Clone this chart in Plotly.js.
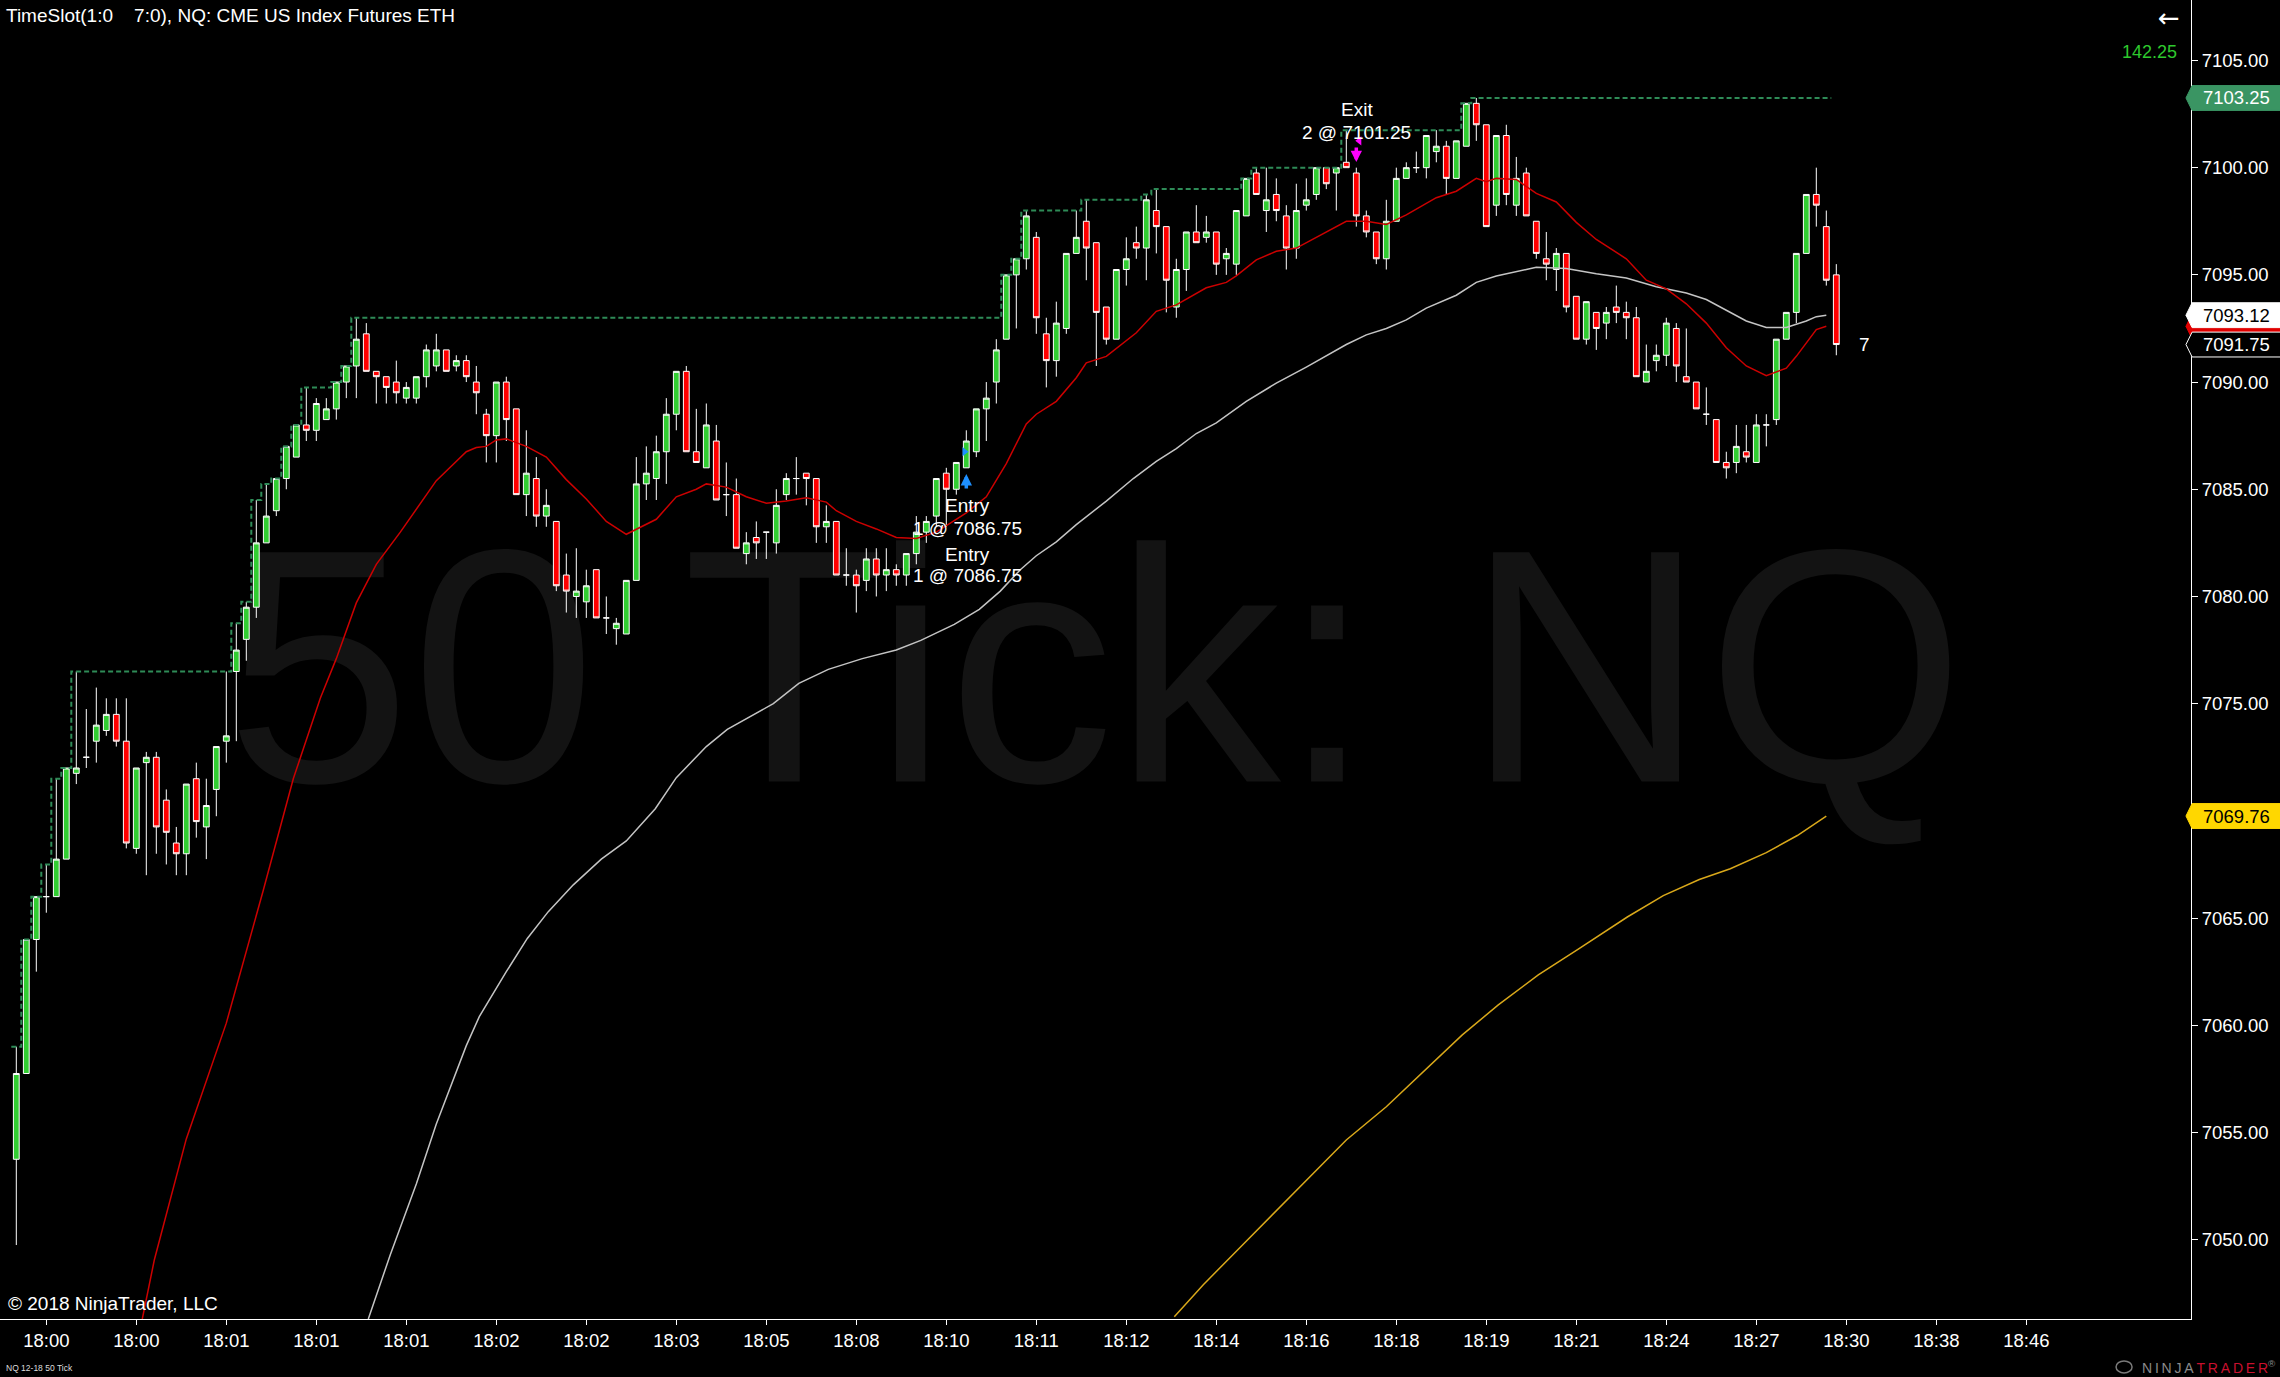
<!DOCTYPE html>
<html>
<head>
<meta charset="utf-8">
<script src="https://cdn.plot.ly/plotly-3.0.1.min.js"></script>
<style>
  html, body { margin: 0; padding: 0; background: #000; overflow: hidden; }
  #chart { width: 2280px; height: 1377px; }
</style>
</head>
<body>
<div id="chart"></div>
<script>
// NQ 12-18, 50 tick bars
const barOpen = [
  7053.75, 7057.75, 7064.0, 7066.0, 7066.0, 7067.75, 7071.75, 7072.5, 7073.25, 7073.75,
  7074.5, 7073.25, 7068.25, 7072.25, 7072.5, 7070.5, 7068.5, 7068.0, 7071.5, 7069.25,
  7071.0, 7073.25, 7076.5, 7078.0, 7079.5, 7082.5, 7084.0, 7085.5, 7086.5, 7088.0,
  7087.75, 7088.25, 7088.75, 7090.0, 7090.75, 7092.25, 7090.5, 7090.25, 7090.0, 7089.25,
  7089.25, 7090.25, 7090.75, 7091.5, 7090.75, 7091.0, 7090.0, 7088.5, 7087.5, 7090.0,
  7088.75, 7084.75, 7085.5, 7083.75, 7083.5, 7081.0, 7080.0, 7079.75, 7081.25, 7079.0,
  7078.5, 7078.25, 7080.75, 7085.25, 7085.5, 7086.75, 7088.5, 7090.5, 7086.75, 7086.0,
  7087.25, 7084.75, 7084.75, 7082.0, 7082.75, 7083.0, 7082.5, 7084.75, 7085.5, 7085.75,
  7085.5, 7083.25, 7083.5, 7081.0, 7081.0, 7080.75, 7081.75, 7081.0, 7081.25, 7081.0,
  7082.0, 7083.0, 7083.75, 7085.75, 7085.0, 7086.0, 7086.75, 7088.75, 7090.0, 7092.0,
  7095.0, 7095.75, 7096.75, 7092.25, 7091.0, 7092.5, 7096.0, 7097.5, 7096.5, 7093.5,
  7092.0, 7095.25, 7096.5, 7096.25, 7098.0, 7097.25, 7093.5, 7095.25, 7097.0, 7096.75,
  7097.0, 7095.75, 7095.5, 7097.75, 7099.75, 7098.0, 7098.75, 7097.75, 7096.25, 7098.25,
  7098.75, 7100.0, 7099.75, 7100.25, 7099.75, 7097.75, 7097.0, 7095.75, 7097.5, 7099.5,
  7100.0, 7100.0, 7100.75, 7101.0, 7099.5, 7101.0, 7103.0, 7102.0, 7098.25, 7101.5,
  7098.25, 7099.75, 7097.5, 7095.75, 7095.25, 7096.0, 7094.0, 7092.0, 7093.25, 7092.75,
  7093.5, 7093.25, 7093.0, 7090.0, 7091.0, 7091.25, 7092.5, 7090.25, 7090.0, 7088.5,
  7088.25, 7086.25, 7086.25, 7086.75, 7086.25, 7088.0, 7088.25, 7092.0, 7093.25, 7096.0,
  7098.75, 7097.25, 7095.0
];
const barHigh = [
  7059.0, 7064.0, 7066.0, 7067.5, 7071.5, 7072.0, 7076.5, 7074.75, 7075.75, 7075.25,
  7075.25, 7075.25, 7072.0, 7072.75, 7072.75, 7071.0, 7069.25, 7071.25, 7072.25, 7071.5,
  7073.0, 7076.5, 7078.75, 7079.75, 7084.5, 7085.25, 7085.5, 7087.0, 7088.0, 7089.75,
  7089.25, 7089.25, 7090.0, 7090.75, 7093.0, 7092.75, 7090.5, 7090.25, 7091.0, 7090.0,
  7090.25, 7091.75, 7092.25, 7091.5, 7091.25, 7091.25, 7090.75, 7088.75, 7090.0, 7090.25,
  7088.75, 7087.75, 7086.5, 7085.0, 7083.5, 7082.0, 7082.25, 7081.25, 7081.25, 7080.0,
  7079.0, 7080.75, 7086.5, 7087.0, 7087.5, 7089.25, 7090.5, 7090.75, 7088.75, 7089.0,
  7088.0, 7086.25, 7085.5, 7083.0, 7083.5, 7083.0, 7085.0, 7085.75, 7086.5, 7085.75,
  7085.5, 7084.25, 7083.5, 7082.25, 7081.25, 7082.25, 7082.25, 7082.25, 7081.5, 7082.0,
  7083.75, 7083.75, 7085.5, 7086.0, 7086.25, 7087.75, 7088.75, 7090.0, 7092.0, 7095.0,
  7095.75, 7098.0, 7097.0, 7093.0, 7093.75, 7096.0, 7098.0, 7098.5, 7096.5, 7093.5,
  7095.25, 7096.75, 7097.25, 7098.75, 7099.0, 7097.25, 7095.75, 7097.0, 7098.25, 7097.75,
  7097.0, 7096.25, 7098.0, 7099.5, 7100.0, 7100.0, 7099.5, 7098.25, 7099.25, 7099.5,
  7100.0, 7100.0, 7100.0, 7101.75, 7100.0, 7098.0, 7097.0, 7098.5, 7100.0, 7100.25,
  7100.75, 7101.5, 7101.75, 7101.25, 7101.25, 7103.0, 7103.25, 7102.0, 7101.5, 7102.0,
  7100.5, 7100.0, 7097.5, 7097.0, 7096.25, 7096.0, 7094.0, 7093.75, 7093.25, 7093.5,
  7094.5, 7093.75, 7093.5, 7091.75, 7091.75, 7093.0, 7092.75, 7092.5, 7090.0, 7089.75,
  7088.25, 7086.75, 7088.0, 7088.0, 7088.5, 7088.5, 7092.0, 7093.25, 7096.0, 7098.75,
  7100.0, 7098.0, 7095.5
];
const barLow = [
  7049.75, 7057.75, 7062.5, 7065.25, 7066.0, 7067.75, 7071.25, 7072.0, 7072.25, 7073.5,
  7073.0, 7068.25, 7068.0, 7067.0, 7068.0, 7067.5, 7067.0, 7067.0, 7068.75, 7067.75,
  7069.75, 7072.25, 7073.25, 7077.0, 7079.0, 7082.5, 7083.75, 7085.0, 7086.5, 7087.25,
  7087.25, 7088.25, 7088.25, 7089.25, 7089.25, 7090.5, 7089.0, 7089.0, 7089.0, 7089.0,
  7089.0, 7089.75, 7090.5, 7090.5, 7090.5, 7090.0, 7088.5, 7086.25, 7086.25, 7087.25,
  7084.75, 7083.75, 7083.25, 7083.25, 7080.25, 7079.25, 7079.0, 7079.0, 7079.0, 7078.25,
  7077.75, 7078.25, 7080.75, 7084.5, 7084.5, 7085.25, 7087.75, 7086.75, 7086.25, 7086.0,
  7084.5, 7083.75, 7082.25, 7081.5, 7081.75, 7081.75, 7082.0, 7084.5, 7084.75, 7084.25,
  7082.5, 7082.5, 7081.0, 7080.5, 7079.25, 7080.25, 7080.0, 7080.25, 7080.5, 7080.5,
  7081.5, 7082.5, 7083.25, 7083.25, 7084.75, 7086.0, 7086.5, 7087.25, 7089.0, 7092.0,
  7092.5, 7095.25, 7092.25, 7089.75, 7090.25, 7092.25, 7096.0, 7094.75, 7090.75, 7091.75,
  7092.0, 7094.5, 7095.75, 7094.75, 7096.0, 7093.25, 7093.0, 7094.25, 7096.5, 7096.5,
  7095.0, 7095.0, 7095.0, 7097.75, 7098.75, 7097.0, 7097.5, 7095.25, 7095.75, 7098.0,
  7098.5, 7099.0, 7098.0, 7100.0, 7097.25, 7096.75, 7095.5, 7095.25, 7097.5, 7099.5,
  7099.75, 7099.5, 7100.25, 7098.75, 7099.5, 7101.0, 7101.25, 7097.25, 7097.75, 7098.25,
  7097.75, 7097.75, 7095.75, 7094.75, 7094.25, 7093.25, 7092.0, 7091.75, 7091.5, 7092.0,
  7092.75, 7092.0, 7090.25, 7090.0, 7090.5, 7090.75, 7090.0, 7090.0, 7088.75, 7088.0,
  7086.25, 7085.5, 7085.75, 7086.25, 7086.25, 7087.0, 7088.0, 7092.0, 7092.75, 7096.0,
  7097.25, 7094.5, 7091.25
];
const barClose = [
  7057.75, 7064.0, 7066.0, 7066.0, 7067.75, 7072.0, 7072.0, 7072.5, 7074.0, 7074.5,
  7073.25, 7068.5, 7072.0, 7072.5, 7069.25, 7069.0, 7068.0, 7071.25, 7069.5, 7070.25,
  7073.0, 7073.5, 7077.5, 7079.5, 7082.5, 7083.75, 7085.5, 7087.0, 7088.0, 7087.75,
  7089.0, 7088.75, 7090.0, 7090.75, 7092.0, 7090.5, 7090.25, 7089.75, 7089.5, 7089.75,
  7090.25, 7091.5, 7091.5, 7090.5, 7091.0, 7090.25, 7089.5, 7087.5, 7090.0, 7088.25,
  7084.75, 7085.75, 7083.75, 7084.25, 7080.5, 7080.25, 7080.25, 7080.5, 7079.0, 7079.0,
  7078.75, 7080.75, 7085.25, 7085.75, 7086.75, 7088.5, 7090.5, 7086.75, 7086.25, 7088.0,
  7084.5, 7084.75, 7082.25, 7082.5, 7082.5, 7083.0, 7084.25, 7085.5, 7085.5, 7085.5,
  7083.25, 7083.5, 7081.0, 7081.0, 7080.5, 7081.75, 7081.0, 7081.25, 7081.0, 7082.0,
  7083.0, 7083.5, 7085.5, 7085.0, 7086.25, 7087.25, 7088.75, 7089.25, 7091.5, 7095.0,
  7095.75, 7097.75, 7093.0, 7091.0, 7092.75, 7096.0, 7096.75, 7096.25, 7093.25, 7092.0,
  7095.25, 7095.75, 7096.25, 7098.5, 7097.25, 7094.75, 7095.25, 7097.0, 7096.5, 7097.0,
  7095.5, 7096.0, 7098.0, 7099.5, 7098.75, 7098.5, 7098.0, 7096.25, 7098.0, 7098.5,
  7100.0, 7099.25, 7100.0, 7100.0, 7097.75, 7097.0, 7095.75, 7097.5, 7099.5, 7100.0,
  7100.0, 7101.5, 7101.0, 7099.5, 7101.25, 7103.0, 7102.0, 7097.25, 7101.5, 7098.75,
  7099.5, 7097.75, 7096.0, 7095.5, 7096.0, 7093.5, 7092.0, 7093.75, 7092.5, 7093.25,
  7093.25, 7093.0, 7090.25, 7090.5, 7091.25, 7092.75, 7090.75, 7090.0, 7088.75, 7088.5,
  7086.25, 7086.0, 7087.0, 7086.5, 7088.0, 7088.0, 7092.0, 7093.25, 7096.0, 7098.75,
  7098.25, 7094.75, 7091.75
];

// time-axis labels, one every nine bars
const tickBars = [3, 12, 21, 30, 39, 48, 57, 66, 75, 84, 93, 102, 111, 120, 129, 138, 147, 156, 165, 174, 183, 192, 201];
const tickLabels = ['18:00', '18:00', '18:01', '18:01', '18:01', '18:02', '18:02', '18:03', '18:05', '18:08',
  '18:10', '18:11', '18:12', '18:14', '18:16', '18:18', '18:19', '18:21', '18:24', '18:27',
  '18:30', '18:38', '18:46'];

// fast moving average (red)
const fastMaX = [12.6, 13.8, 17.0, 21.0, 24.7, 27.7, 30.4, 32, 34, 36, 38.4, 42, 45, 46, 47, 48, 49, 51, 53, 55,
  57, 59, 61, 64, 66, 68, 69, 71, 73, 75, 77, 79, 81, 82, 84, 86, 88, 90, 92, 95,
  97, 99, 101, 102, 104, 106, 107, 109, 112, 114, 116, 119, 121, 122, 124, 126, 128, 131, 133, 135,
  137, 139, 142, 144, 146, 147, 148, 150, 152, 154, 156, 158, 161, 163, 165, 167, 169, 171, 173, 175,
  177, 178, 180, 181];
const fastMaY = [7046.3, 7049.05, 7054.7, 7060.1, 7066.3, 7071.5, 7075.25, 7077.1, 7079.7, 7081.5, 7083.0, 7085.4, 7086.75, 7086.95, 7087.0, 7087.3, 7087.35, 7087.0, 7086.5, 7085.45,
  7084.55, 7083.5, 7082.9, 7083.6, 7084.65, 7085.0, 7085.25, 7085.1, 7084.65, 7084.35, 7084.45, 7084.6, 7084.4, 7084.0, 7083.5, 7083.15, 7082.75, 7082.7, 7083.0, 7083.9,
  7084.65, 7086.2, 7088.05, 7088.5, 7089.1, 7090.2, 7090.9, 7091.2, 7092.3, 7093.3, 7093.6, 7094.4, 7094.65, 7094.95, 7095.7, 7096.1, 7096.25, 7097.0, 7097.5, 7097.5,
  7097.35, 7097.8, 7098.6, 7098.9, 7099.5, 7099.35, 7099.5, 7099.45, 7098.8, 7098.4, 7097.45, 7096.65, 7095.75, 7094.75, 7094.35, 7093.65, 7092.75, 7091.6, 7090.75, 7090.3,
  7090.65, 7091.2, 7092.45, 7092.6];

// medium moving average (silver)
const midMaX = [35.2, 37.4, 40, 42, 45, 46.3, 49, 51.1, 53.2, 55.7, 58.5, 61, 63.9, 66, 69, 71.1, 75.7, 78.25, 81.2, 84.6,
  88, 90.45, 93.8, 96.3, 98.4, 100.4, 102, 104, 106, 109, 111.7, 114, 116, 118, 120, 123, 126, 129, 133, 135,
  137, 139, 141, 144, 146, 148, 151, 152, 155, 158, 161, 164, 167, 169, 171, 173, 175, 177, 179, 180, 181];
const midMaY = [7046.3, 7049.3, 7052.6, 7055.4, 7059.05, 7060.4, 7062.5, 7064.05, 7065.3, 7066.55, 7067.75, 7068.6, 7070.1, 7071.55, 7073.0, 7073.8, 7075.0, 7075.95, 7076.6, 7077.1,
  7077.5, 7077.95, 7078.7, 7079.4, 7080.25, 7081.25, 7081.9, 7082.55, 7083.35, 7084.45, 7085.5, 7086.3, 7086.9, 7087.6, 7088.1, 7089.1, 7089.95, 7090.7, 7091.75, 7092.2,
  7092.5, 7092.9, 7093.45, 7094.05, 7094.65, 7094.95, 7095.25, 7095.35, 7095.3, 7095.05, 7094.85, 7094.45, 7094.15, 7093.85, 7093.35, 7092.85, 7092.55, 7092.55, 7092.85, 7093.05, 7093.12];

// slow moving average (gold)
const slowMaX = [115.8, 118.7, 122.3, 125.9, 129.4, 133, 137, 140.6, 144.6, 148.2, 152.2, 156.2, 161.1, 164.7, 168.3, 171.4, 175, 178.1, 181];
const slowMaY = [7046.4, 7047.9, 7049.6, 7051.3, 7052.95, 7054.65, 7056.2, 7057.8, 7059.55, 7060.95, 7062.35, 7063.55, 7065.05, 7066.05, 7066.8, 7067.3, 7068.05, 7068.85, 7069.76];

// executions
const entryBar = 95, entryQty = 1, entryPrice = 7086.75;
const exitBar = 134, exitQty = 2, exitPrice = 7101.25;
const barCountdown = '7';
const headerValue = '142.25';

const FONT = 'Arial, "Liberation Sans", sans-serif';
const barIndex = barOpen.map((_, i) => i);

// running session high, drawn as a stepped dashed line
const runHigh = [];
let hi = -Infinity;
for (let i = 0; i < barHigh.length - 1; i++) { hi = Math.max(hi, barHigh[i]); runHigh.push(hi); }
const stepX = [], stepY = [];
runHigh.forEach((v, i) => { stepX.push(i - 0.5, i + 0.5); stepY.push(v, v); });

const traces = [
  {
    type: 'candlestick', x: barIndex, open: barOpen, high: barHigh, low: barLow, close: barClose,
    increasing: { line: { color: '#ffffff', width: 1 }, fillcolor: '#32cd32' },
    decreasing: { line: { color: '#ffffff', width: 1 }, fillcolor: '#ff0000' },
    whiskerwidth: 0, hoverinfo: 'skip', showlegend: false
  },
  {
    type: 'scatter', mode: 'lines', x: stepX, y: stepY, hoverinfo: 'skip',
    line: { color: '#2e8b57', width: 2, dash: '5px,3px' }
  },
  {
    type: 'scatter', mode: 'lines', x: midMaX, y: midMaY, hoverinfo: 'skip',
    line: { color: '#c4c4c4', width: 1.5 }
  },
  {
    type: 'scatter', mode: 'lines', x: fastMaX, y: fastMaY, hoverinfo: 'skip',
    line: { color: '#cc0000', width: 1.5 }
  },
  {
    type: 'scatter', mode: 'lines', x: slowMaX, y: slowMaY, hoverinfo: 'skip',
    line: { color: '#d9a81a', width: 1.5 }
  },
  {
    type: 'scatter', mode: 'markers', x: [entryBar - 0.18], y: [entryPrice], hoverinfo: 'skip',
    marker: { symbol: 'triangle-right', size: 8, color: '#1e90ff' }
  },
  {
    type: 'scatter', mode: 'markers', x: [exitBar + 0.3], y: [exitPrice], hoverinfo: 'skip',
    marker: { symbol: 'triangle-left', size: 8, color: '#ff00ff' }
  }
];

// price tags on the right-hand axis
const last = a => a[a.length - 1];
const tags = [
  { price: last(fastMaY), fill: '#e00000', edge: '#e00000', color: null },
  { price: last(midMaY), fill: '#ffffff', edge: '#ffffff', color: '#000000' },
  { price: last(barClose), fill: '#000000', edge: '#ffffff', color: '#ffffff' },
  { price: last(slowMaY), fill: '#ffd700', edge: '#ffd700', color: '#000000' },
  { price: last(runHigh), fill: '#3a9563', edge: '#3a9563', color: '#ffffff' }
];
const TAG_H = 0.58, X_TIP = 0.9977, X_BODY = 1.0005, X_END = 1.042;
const shapes = [
  {
    type: 'rect', xref: 'paper', yref: 'paper', x0: 0, x1: 1, y0: 0.019, y1: 1.019, layer: 'below',
    line: { width: 0 }, fillcolor: 'rgba(0,0,0,0)',
    label: { text: '50 Tick: NQ', textposition: 'middle center', font: { family: FONT, size: 333, color: '#131313' } }
  },
  {
    type: 'circle', xref: 'paper', yref: 'paper', x0: 0.9658, x1: 0.9731, y0: -0.0409, y1: -0.0318,
    line: { color: '#7a7a7a', width: 1.5 }, fillcolor: 'rgba(0,0,0,0)'
  }
];
const annotations = [];
tags.forEach(t => {
  const p = t.price;
  shapes.push({
    type: 'path', xref: 'paper', yref: 'y', layer: 'above',
    path: `M ${X_TIP},${p} L ${X_BODY},${p + TAG_H} L ${X_END},${p + TAG_H} L ${X_END},${p - TAG_H} L ${X_BODY},${p - TAG_H} Z`,
    fillcolor: t.fill, line: { color: t.edge, width: 1 }
  });
  if (t.color) {
    annotations.push({
      xref: 'paper', yref: 'y', x: 1.0046, y: p, xanchor: 'left', yanchor: 'middle', showarrow: false,
      text: p.toFixed(2), font: { family: FONT, size: 18.5, color: t.color }
    });
  }
});

const txt = (text, extra) => Object.assign({ showarrow: false, text, font: { family: FONT, size: 19, color: '#ffffff' } }, extra);
annotations.push(
  txt('TimeSlot(1:0\u00a0\u00a0\u00a0\u00a07:0), NQ: CME US Index Futures ETH',
    { xref: 'paper', yref: 'paper', x: 0.0018, y: 0.9879, xanchor: 'left', yanchor: 'middle' }),
  txt('© 2018 NinjaTrader, LLC',
    { xref: 'paper', yref: 'paper', x: 0.0027, y: 0.0121, xanchor: 'left', yanchor: 'middle' }),
  txt('NQ 12-18 50 Tick',
    { xref: 'paper', yref: 'paper', x: 0.0018, y: -0.0375, xanchor: 'left', yanchor: 'middle', font: { family: FONT, size: 8.5, color: '#dddddd' } }),
  txt('N\u2009I\u2009N\u2009J\u2009A\u2009<span style="color:#c8102e">T\u2009R\u2009A\u2009D\u2009E\u2009R</span><sup>®</sup>',
    { xref: 'paper', yref: 'paper', x: 1.0397, y: -0.0364, xanchor: 'right', yanchor: 'middle', font: { family: FONT, size: 14, color: '#8a8a8a' } }),
  txt(headerValue,
    { xref: 'paper', yref: 'paper', x: 0.9947, y: 0.9606, xanchor: 'right', yanchor: 'middle', font: { family: FONT, size: 18, color: '#2ec82e' } }),
  txt('\u2190',
    { xref: 'paper', yref: 'paper', x: 0.9898, y: 0.9866, xanchor: 'center', yanchor: 'middle', font: { family: '"DejaVu Sans", sans-serif', size: 26, color: '#ffffff' } }),
  txt(barCountdown, { xref: 'x', yref: 'y', x: 184.77, y: 7091.73, xanchor: 'center', yanchor: 'middle' }),
  txt('Entry', { xref: 'x', yref: 'y', x: entryBar + 0.07, y: 7084.22, xanchor: 'center', yanchor: 'middle' }),
  txt(`${entryQty} @ ${entryPrice.toFixed(2)}`, { xref: 'x', yref: 'y', x: entryBar + 0.07, y: 7083.19, xanchor: 'center', yanchor: 'middle' }),
  txt('Entry', { xref: 'x', yref: 'y', x: entryBar + 0.07, y: 7081.98, xanchor: 'center', yanchor: 'middle' }),
  txt(`${entryQty} @ ${entryPrice.toFixed(2)}`, { xref: 'x', yref: 'y', x: entryBar + 0.07, y: 7081.0, xanchor: 'center', yanchor: 'middle' }),
  txt('Exit', { xref: 'x', yref: 'y', x: exitBar + 0.07, y: 7102.69, xanchor: 'center', yanchor: 'middle' }),
  txt(`${exitQty} @ ${exitPrice.toFixed(2)}`, { xref: 'x', yref: 'y', x: exitBar + 0.04, y: 7101.64, xanchor: 'center', yanchor: 'middle' }),
  {
    xref: 'x', yref: 'y', x: entryBar, y: 7085.71, ax: 0, ay: 16, text: '', showarrow: true,
    arrowhead: 2, arrowsize: 0.65, arrowwidth: 3.5, arrowcolor: '#1e90ff'
  },
  {
    xref: 'x', yref: 'y', x: exitBar, y: 7100.26, ax: 0, ay: -16, text: '', showarrow: true,
    arrowhead: 2, arrowsize: 0.65, arrowwidth: 3.5, arrowcolor: '#ff00ff'
  }
);

const layout = {
  width: 2280, height: 1377,
  paper_bgcolor: '#000000', plot_bgcolor: '#000000',
  margin: { l: 0, r: 89, t: 0, b: 58, pad: 0 },
  showlegend: false,
  font: { family: FONT, color: '#ffffff', size: 19 },
  boxgap: 0.42, boxgroupgap: 0,
  xaxis: {
    type: 'linear', range: [-1.63, 217.47], tickmode: 'array', tickvals: tickBars, ticktext: tickLabels,
    showgrid: false, zeroline: false, showline: true, linecolor: '#ffffff', linewidth: 1,
    ticks: 'outside', ticklen: 5, tickwidth: 1, tickcolor: '#ffffff',
    tickfont: { family: FONT, size: 18.5, color: '#ffffff' },
    rangeslider: { visible: false }, fixedrange: true
  },
  yaxis: {
    side: 'right', range: [7046.30, 7107.82], tick0: 7050, dtick: 5, tickformat: '.2f',
    showgrid: false, zeroline: false, showline: true, linecolor: '#ffffff', linewidth: 1,
    ticks: 'outside', ticklen: 6, tickwidth: 1, tickcolor: '#ffffff',
    tickfont: { family: FONT, size: 18.5, color: '#ffffff' }, fixedrange: true
  },
  shapes, annotations
};

Plotly.newPlot('chart', traces, layout, { displayModeBar: false, staticPlot: true });
</script>
</body>
</html>
